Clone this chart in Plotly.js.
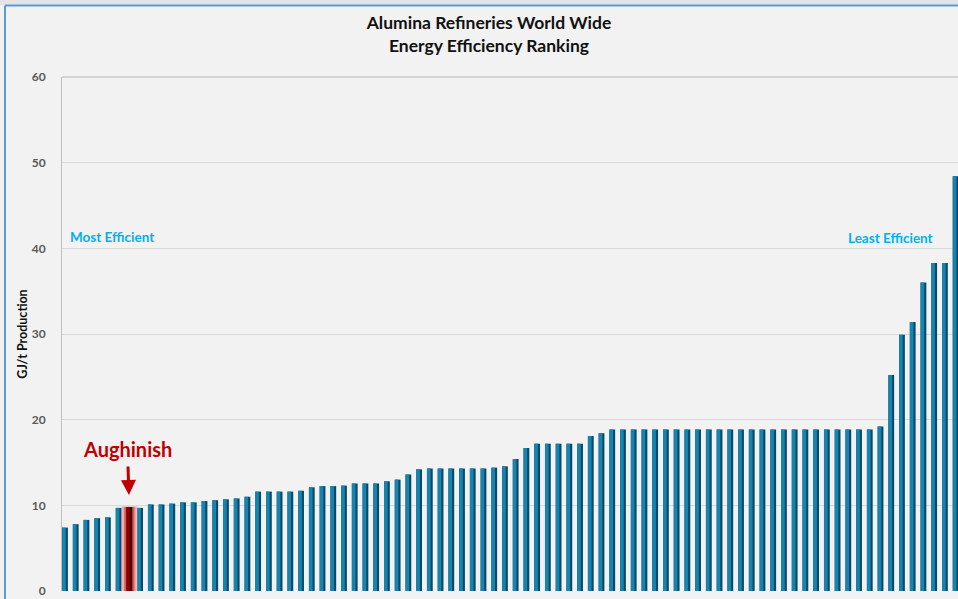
<!DOCTYPE html>
<html>
<head>
<meta charset="utf-8">
<script src="https://cdn.plot.ly/plotly-3.0.1.min.js"></script>
<style>
  html, body { margin: 0; padding: 0; background: #f2f2f2; }
  #chart { width: 958px; height: 599px; }
</style>
</head>
<body>
<div id="chart"></div>
<script>
// Ranking positions (1 = most efficient)
const ranks = Array.from({length: 84}, (_, i) => i + 1);
// Energy consumption, GJ per tonne of production
const gjPerTonne = [
  7.4, 7.8, 8.3, 8.5, 8.6, 9.7, 9.8, 9.7, 10.1, 10.1,
  10.2, 10.35, 10.35, 10.5, 10.6, 10.7, 10.8, 11.0, 11.6, 11.6,
  11.6, 11.6, 11.7, 12.1, 12.25, 12.25, 12.3, 12.55, 12.55, 12.55,
  12.8, 13.0, 13.6, 14.2, 14.3, 14.3, 14.3, 14.3, 14.3, 14.3,
  14.4, 14.55, 15.4, 16.7, 17.2, 17.2, 17.2, 17.2, 17.2, 18.1,
  18.4, 18.85, 18.85, 18.85, 18.85, 18.85, 18.85, 18.85, 18.85, 18.85,
  18.85, 18.85, 18.85, 18.85, 18.85, 18.85, 18.85, 18.85, 18.85, 18.85,
  18.85, 18.85, 18.85, 18.85, 18.85, 18.85, 19.2, 25.2, 29.9, 31.4,
  36.0, 38.3, 38.3, 48.4
];
const highlightName = "Aughinish";
const highlightRank = 7;
const yTicks = [0, 10, 20, 30, 40, 50, 60];
const chartTitle = "Alumina Refineries World Wide<br>Energy Efficiency Ranking";
const yTitle = "GJ/t Production";
const leftNote = "Most Efficient";
const rightNote = "Least Efficient";

const hx = [ranks[highlightRank - 1]];
const hy = [gjPerTonne[highlightRank - 1]];

const traces = [
  { // dark right face of each column
    type: 'bar', x: ranks, y: gjPerTonne, width: 0.54, offset: -0.27,
    marker: { color: '#0b4a66', line: { width: 0 } }, hoverinfo: 'y', showlegend: false
  },
  { // lighter front face
    type: 'bar', x: ranks, y: gjPerTonne, width: 0.34, offset: -0.27,
    marker: { color: '#1784b0', line: { width: 0 } }, hoverinfo: 'skip', showlegend: false
  },
  { // outer soft red glow behind the highlighted refinery
    type: 'bar', x: hx, y: hy, width: 1.3, offset: -0.65,
    marker: { color: 'rgba(232,120,120,0.55)', line: { color: 'rgba(240,160,160,0.5)', width: 2 } },
    hoverinfo: 'skip', showlegend: false
  },
  { // inner red glow
    type: 'bar', x: hx, y: hy, width: 0.95, offset: -0.475,
    marker: { color: 'rgba(215,60,60,0.75)', line: { width: 0 } },
    hoverinfo: 'skip', showlegend: false
  },
  { // highlighted refinery column
    type: 'bar', x: hx, y: hy, width: 0.54, offset: -0.27,
    marker: { color: '#4a0000', line: { width: 0 } }, hoverinfo: 'skip', showlegend: false
  },
  {
    type: 'bar', x: hx, y: hy, width: 0.3, offset: -0.27,
    marker: { color: '#8f0000', line: { width: 0 } }, hoverinfo: 'skip', showlegend: false
  }
];

const font = "Lato, 'Open Sans', 'DejaVu Sans', sans-serif";

const layout = {
  width: 958, height: 599,
  margin: { l: 62, r: 0, t: 77, b: 8 },
  paper_bgcolor: '#f2f2f2', plot_bgcolor: '#f2f2f2',
  barmode: 'overlay',
  font: { family: font },
  title: {
    text: chartTitle,
    font: { family: font, size: 17.5, color: '#111111', weight: 'bold' },
    xref: 'container', x: 0.5104, xanchor: 'center',
    yref: 'container', y: 1 - 29 / 599, yanchor: 'top'
  },
  xaxis: {
    range: [0.72, 84.22], showticklabels: false, ticks: '',
    showgrid: false, zeroline: false, showline: false, fixedrange: true
  },
  yaxis: {
    range: [0, 60], tickvals: yTicks, ticktext: yTicks.map(String),
    tickfont: { family: font, size: 12, color: '#595959', weight: 'bold' },
    ticks: '', ticklabelstandoff: 13,
    showgrid: true, gridcolor: '#d9d9d9', gridwidth: 1,
    zeroline: false, showline: true, linecolor: '#bfbfbf', linewidth: 1,
    title: { text: yTitle, font: { family: font, size: 12.5, color: '#111111', weight: 'bold' }, standoff: 1 },
    fixedrange: true
  },
  shapes: [
    // light band above the chart frame
    { type: 'rect', xref: 'paper', yref: 'paper', x0: -0.08, x1: 1.01, y0: (591 - 5) / 514, y1: (591 + 2) / 514,
      fillcolor: '#e4e4e4', line: { width: 0 }, layer: 'below' },
    // blue frame (top and left)
    { type: 'line', xref: 'paper', yref: 'paper', x0: (5 - 62) / 896, x1: 1.01, y0: (591 - 5.5) / 514, y1: (591 - 5.5) / 514,
      line: { color: '#5b9bd5', width: 2 } },
    { type: 'line', xref: 'paper', yref: 'paper', x0: (5 - 62) / 896, x1: (5 - 62) / 896, y0: (591 - 5.5) / 514, y1: -0.05,
      line: { color: '#5b9bd5', width: 2 } },
    // top edge of plot area
    { type: 'line', xref: 'paper', yref: 'paper', x0: 0, x1: 1.01, y0: 1, y1: 1,
      line: { color: '#c8c8c8', width: 1.5 } }
  ],
  annotations: [
    { text: leftNote, xref: 'x', yref: 'y', x: 5.38, y: 41.3, showarrow: false,
      font: { family: font, size: 13.5, color: '#00b0f0', weight: 'bold' } },
    { text: rightNote, xref: 'x', yref: 'y', x: 77.9, y: 41.2, showarrow: false,
      font: { family: font, size: 13.5, color: '#00b0f0', weight: 'bold' } },
    { text: highlightName, xref: 'x', yref: 'y', x: hx[0], y: hy[0],
      showarrow: true, ax: -2, ay: -58, arrowhead: 2, arrowsize: 1, arrowwidth: 3,
      arrowcolor: '#c00000', standoff: 12, startstandoff: 4,
      font: { family: font, size: 20, color: '#c00000', weight: 'bold' } }
  ]
};

Plotly.newPlot('chart', traces, layout, { displayModeBar: false, staticPlot: true });
</script>
</body>
</html>
